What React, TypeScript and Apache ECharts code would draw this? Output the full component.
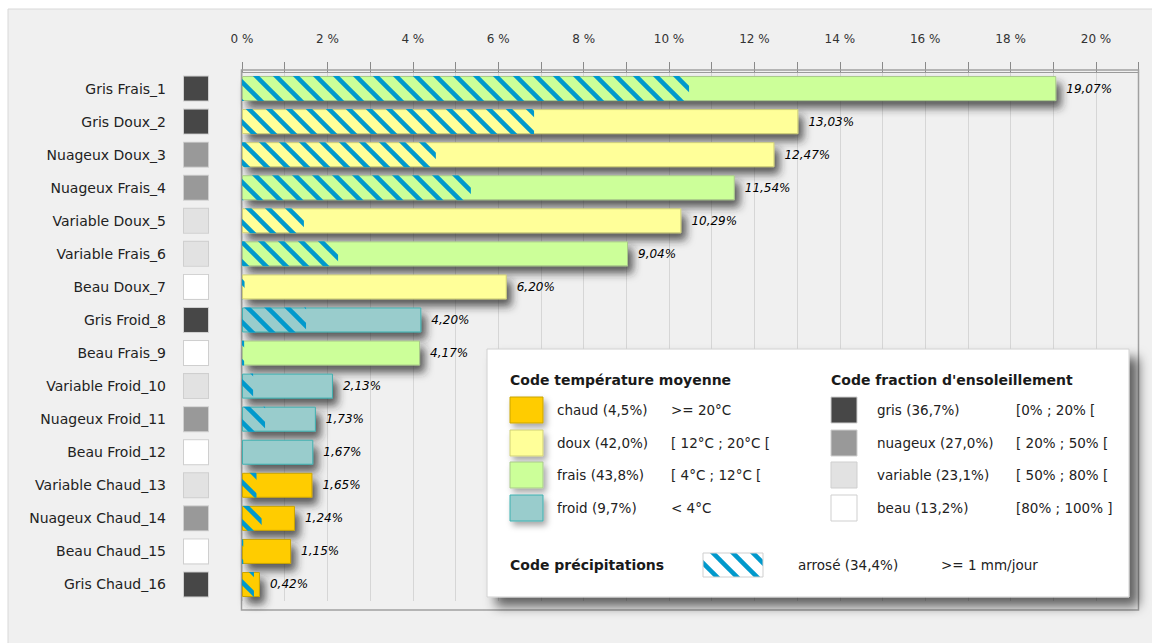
import React, { useEffect, useRef } from 'react';
import * as echarts from 'echarts';

const categories = [
  'Gris Frais_1', 'Gris Doux_2', 'Nuageux Doux_3', 'Nuageux Frais_4', 'Variable Doux_5',
  'Variable Frais_6', 'Beau Doux_7', 'Gris Froid_8', 'Beau Frais_9', 'Variable Froid_10',
  'Nuageux Froid_11', 'Beau Froid_12', 'Variable Chaud_13', 'Nuageux Chaud_14',
  'Beau Chaud_15', 'Gris Chaud_16',
];
const totals = [19.07, 13.03, 12.47, 11.54, 10.29, 9.04, 6.2, 4.2, 4.17, 2.13, 1.73, 1.67, 1.65, 1.24, 1.15, 0.42];
const arroses = [10.47, 6.84, 4.54, 5.36, 1.45, 2.25, 0.06, 1.5, 0.05, 0.26, 0.54, 0, 0.34, 0.46, 0.03, 0.28];
const tempClass = ['frais', 'doux', 'doux', 'frais', 'doux', 'frais', 'doux', 'froid', 'frais', 'froid', 'froid', 'froid', 'chaud', 'chaud', 'chaud', 'chaud'];
const sunClass = ['gris', 'gris', 'nuageux', 'nuageux', 'variable', 'variable', 'beau', 'gris', 'beau', 'variable', 'nuageux', 'beau', 'variable', 'nuageux', 'beau', 'gris'];

const tempKeys = ['chaud', 'doux', 'frais', 'froid'];
const tempLegendLabels = ['chaud (4,5%)', 'doux (42,0%)', 'frais (43,8%)', 'froid (9,7%)'];
const tempLegendRanges = ['>= 20°C', '[ 12°C ; 20°C [', '[ 4°C ; 12°C [', '< 4°C'];
const sunKeys = ['gris', 'nuageux', 'variable', 'beau'];
const sunLegendLabels = ['gris (36,7%)', 'nuageux (27,0%)', 'variable (23,1%)', 'beau (13,2%)'];
const sunLegendRanges = ['[0% ; 20% [', '[ 20% ; 50% [', '[ 50% ; 80% [', '[80% ; 100% ]'];
const tempTitle = 'Code température moyenne';
const sunTitle = "Code fraction d'ensoleillement";
const precipTitle = 'Code précipitations';
const precipLabel = 'arrosé (34,4%)';
const precipRange = '>= 1 mm/jour';

const TEMP_COLORS: Record<string, { fill: string; border: string }> = {
  chaud: { fill: '#ffcc00', border: '#c9a400' },
  doux: { fill: '#ffff99', border: '#cfcf78' },
  frais: { fill: '#ccff99', border: '#a9c98a' },
  froid: { fill: '#99cccc', border: '#3fb0b0' },
};
const SUN_COLORS: Record<string, string> = {
  gris: '#474747',
  nuageux: '#999999',
  variable: '#e2e2e2',
  beau: '#ffffff',
};
const HATCH = '#0099cc';
const FONT = '"DejaVu Sans", "Noto Sans", sans-serif';

function makeHatch(bg: string | null) {
  const c = document.createElement('canvas');
  c.width = 20;
  c.height = 20;
  const ctx = c.getContext('2d')!;
  if (bg) {
    ctx.fillStyle = bg;
    ctx.fillRect(0, 0, 20, 20);
  }
  ctx.strokeStyle = HATCH;
  ctx.lineWidth = 4.5;
  for (const o of [-20, 0, 20]) {
    ctx.beginPath();
    ctx.moveTo(o - 2, -2);
    ctx.lineTo(o + 22, 22);
    ctx.stroke();
  }
  return c;
}

export default function App() {
  const ref = useRef<HTMLDivElement>(null);
  useEffect(() => {
    if (!ref.current) return;
    const chart = echarts.init(ref.current, undefined, { renderer: 'svg' });
    const hatchPattern = { image: makeHatch(null), repeat: 'repeat' } as any;
    const hatchLegend = { image: makeHatch('#ffffff'), repeat: 'repeat' } as any;

    const rich: any = {
      n: { fontSize: 14, color: '#222', fontFamily: FONT },
      g: { width: 18 },
    };
    sunKeys.forEach((k) => {
      rich[k] = { width: 24, height: 24, backgroundColor: SUN_COLORS[k], borderColor: '#cfcfcf', borderWidth: 1 };
    });

    const legendEls: any[] = [];
    legendEls.push({
      type: 'rect', z: 100,
      shape: { x: 487, y: 349, width: 642, height: 248 },
      style: { fill: '#ffffff', stroke: '#d0d0d0', lineWidth: 1, shadowBlur: 12, shadowOffsetX: 9, shadowOffsetY: 9, shadowColor: 'rgba(0,0,0,0.6)' },
    });
    const titleStyle = { fontSize: 14, fontWeight: 'bold', fill: '#1a1a1a', fontFamily: FONT, verticalAlign: 'middle' };
    const txtStyle = { fontSize: 13.5, fill: '#222', fontFamily: FONT, verticalAlign: 'middle' };
    legendEls.push({ type: 'text', z: 101, x: 510, y: 380, style: { ...titleStyle, text: tempTitle } });
    legendEls.push({ type: 'text', z: 101, x: 831, y: 380, style: { ...titleStyle, text: sunTitle } });
    const rowsY = [410, 443, 475, 508];
    tempKeys.forEach((k, i) => {
      legendEls.push({
        type: 'rect', z: 101,
        shape: { x: 510, y: rowsY[i] - 13, width: 33, height: 26 },
        style: { fill: TEMP_COLORS[k].fill, stroke: TEMP_COLORS[k].border, lineWidth: 1, shadowBlur: 6, shadowOffsetX: 3, shadowOffsetY: 4, shadowColor: 'rgba(0,0,0,0.35)' },
      });
      legendEls.push({ type: 'text', z: 101, x: 557, y: rowsY[i], style: { ...txtStyle, text: tempLegendLabels[i] } });
      legendEls.push({ type: 'text', z: 101, x: 671, y: rowsY[i], style: { ...txtStyle, text: tempLegendRanges[i] } });
    });
    sunKeys.forEach((k, i) => {
      legendEls.push({
        type: 'rect', z: 101,
        shape: { x: 831, y: rowsY[i] - 13, width: 26, height: 26 },
        style: { fill: SUN_COLORS[k], stroke: '#cfcfcf', lineWidth: 1 },
      });
      legendEls.push({ type: 'text', z: 101, x: 877, y: rowsY[i], style: { ...txtStyle, text: sunLegendLabels[i] } });
      legendEls.push({ type: 'text', z: 101, x: 1016, y: rowsY[i], style: { ...txtStyle, text: sunLegendRanges[i] } });
    });
    legendEls.push({ type: 'text', z: 101, x: 510, y: 565, style: { ...titleStyle, text: precipTitle } });
    legendEls.push({
      type: 'rect', z: 101,
      shape: { x: 703, y: 553, width: 60, height: 24 },
      style: { fill: hatchLegend, stroke: '#cfcfcf', lineWidth: 1 },
    });
    legendEls.push({ type: 'text', z: 101, x: 798, y: 565, style: { ...txtStyle, text: precipLabel } });
    legendEls.push({ type: 'text', z: 101, x: 941, y: 565, style: { ...txtStyle, text: precipRange } });

    chart.setOption({
      animation: false,
      backgroundColor: '#ffffff',
      textStyle: { fontFamily: FONT },
      grid: { left: 242, top: 72, width: 896.7, height: 529, containLabel: false },
      xAxis: {
        type: 'value', position: 'top', min: 0, max: 21, interval: 1,
        axisLine: { show: true, lineStyle: { color: '#9a9a9a' } },
        axisTick: { show: true, length: 10, lineStyle: { color: '#8a8a8a' } },
        axisLabel: {
          margin: 27, fontSize: 12, color: '#333', fontFamily: FONT,
          formatter: (v: number) => (v % 2 === 0 && v <= 20 ? `${v} %` : ''),
        },
        splitLine: { show: true, lineStyle: { color: '#d6d6d6' } },
      },
      yAxis: {
        type: 'category', inverse: true, data: categories,
        axisLine: { show: false }, axisTick: { show: false }, splitLine: { show: false },
        axisLabel: {
          margin: 34,
          formatter: (v: string, i: number) => `{n|${v}}{g| }{${sunClass[i]}| }`,
          rich,
        },
      },
      graphic: [
        {
          type: 'rect', z: -10, silent: true,
          shape: { x: 8, y: 9, width: 1150, height: 640 },
          style: { fill: '#f0f0f0', stroke: '#d8d8d8', lineWidth: 1 },
        },
        {
          type: 'rect', z: 1, silent: true,
          shape: { x: 241.5, y: 70, width: 897, height: 540 },
          style: { fill: 'none', stroke: '#a0a0a0', lineWidth: 1.5 },
        },
        ...legendEls,
      ],
      series: [
        {
          type: 'bar', barWidth: 25, z: 2,
          data: totals.map((v, i) => ({
            value: v,
            itemStyle: {
              color: TEMP_COLORS[tempClass[i]].fill,
              borderColor: TEMP_COLORS[tempClass[i]].border,
            },
          })),
          itemStyle: {
            borderWidth: 1,
            shadowBlur: 8, shadowOffsetX: 5, shadowOffsetY: 7, shadowColor: 'rgba(40,40,40,0.75)',
          },
          label: {
            show: true, position: 'right', distance: 10,
            fontSize: 12, fontStyle: 'italic', fontWeight: 'normal', color: '#000', fontFamily: FONT,
            formatter: (p: any) => totals[p.dataIndex].toFixed(2).replace('.', ',') + '%',
          },
        },
        {
          type: 'bar', barWidth: 25, barGap: '-100%', z: 3, silent: true,
          data: arroses,
          itemStyle: { color: hatchPattern },
        },
      ],
    });
    return () => chart.dispose();
  }, []);
  return <div ref={ref} style={{ position: 'fixed', left: 0, top: 0, width: 1152, height: 643 }} />;
}
